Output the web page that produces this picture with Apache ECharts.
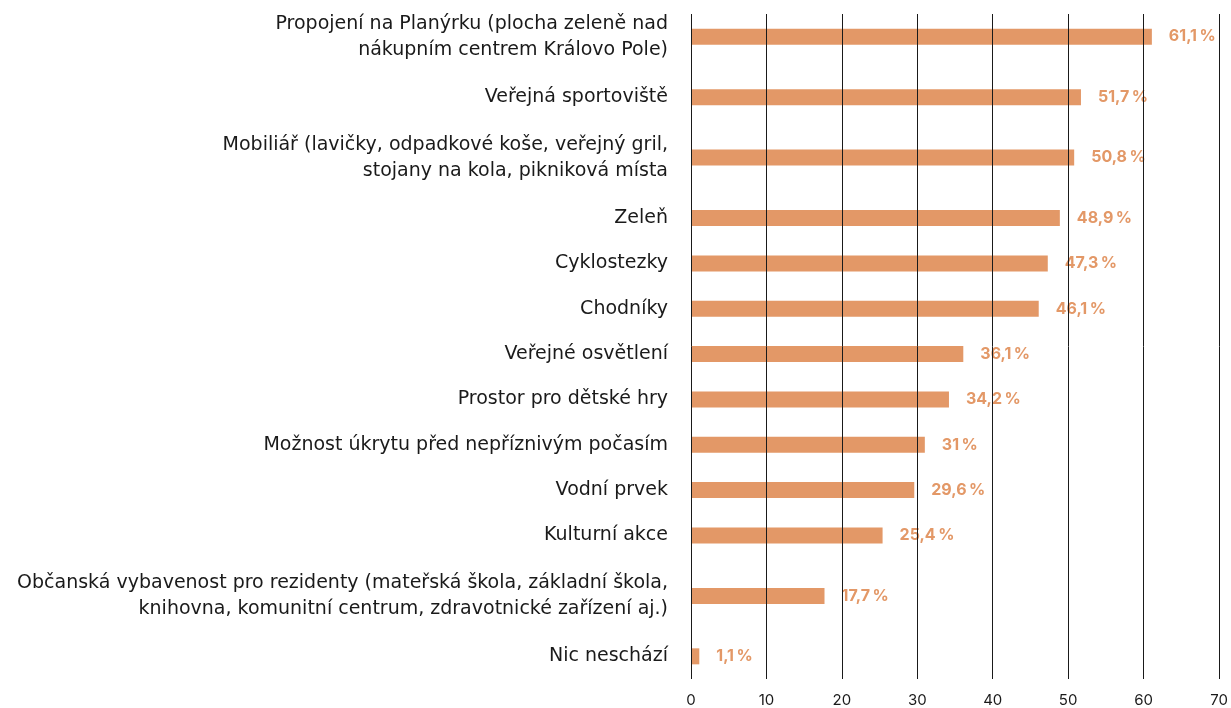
<!DOCTYPE html>
<html>
<head>
<meta charset="utf-8">
<script src="https://cdn.jsdelivr.net/npm/echarts@6/dist/echarts.min.js"></script>
<style>
  html, body { margin: 0; padding: 0; background: #fff; }
  #chart { width: 1231px; height: 708px; }
</style>
</head>
<body>
<div id="chart"></div>
<script>
// kategorie (shora dolů) a hodnoty v %
var categories = [
  "Propojení na Planýrku (plocha zeleně nad\nnákupním centrem Královo Pole)",
  "Veřejná sportoviště",
  "Mobiliář (lavičky, odpadkové koše, veřejný gril,\nstojany na kola, pikniková místa",
  "Zeleň",
  "Cyklostezky",
  "Chodníky",
  "Veřejné osvětlení",
  "Prostor pro dětské hry",
  "Možnost úkrytu před nepříznivým počasím",
  "Vodní prvek",
  "Kulturní akce",
  "Občanská vybavenost pro rezidenty (mateřská škola, základní škola,\nknihovna, komunitní centrum, zdravotnické zařízení aj.)",
  "Nic neschází"
];
var values = [61.1, 51.7, 50.8, 48.9, 47.3, 46.1, 36.1, 34.2, 31, 29.6, 25.4, 17.7, 1.1];
var xTicks = [0, 10, 20, 30, 40, 50, 60, 70];

// rozestupy: víceřádkové popisky dostanou víc místa
function lines(s) { return s.split("\n").length; }
var slots = [];      // klíče slotů na kategorické ose
var slotLabel = {};  // klíč -> text popisku
var slotValue = [];  // hodnoty pro sloty ('-' = prázdné)
var pos = 1;
var slotPos = [];
for (var i = 0; i < categories.length; i++) {
  if (i > 0) {
    pos += (lines(categories[i]) > 1 || lines(categories[i - 1]) > 1) ? 4 : 3;
  }
  slotPos.push(pos);
}
var total = slotPos[slotPos.length - 1] + 2;
for (var k = 0; k < total; k++) {
  slots.push("s" + k);
  slotValue.push("-");
}
for (var j = 0; j < categories.length; j++) {
  slotLabel["s" + slotPos[j]] = categories[j];
  slotValue[slotPos[j]] = values[j];
}

var myChart = echarts.init(document.getElementById("chart"));

var option = {
  animation: false,
  grid: {
    left: 691,
    right: 12,
    top: 14,
    bottom: 29
  },
  xAxis: {
    type: "value",
    min: xTicks[0],
    max: xTicks[xTicks.length - 1],
    interval: 10,
    z: 10,
    axisLine: { show: false },
    axisTick: { show: false },
    axisLabel: {
      margin: 14,
      color: "#1a1a1a",
      fontSize: 15,
      fontFamily: "Inter"
    },
    splitLine: {
      show: true,
      lineStyle: { color: "#1a1a1a", width: 1 }
    }
  },
  yAxis: {
    type: "category",
    inverse: true,
    data: slots,
    axisLine: { show: false },
    axisTick: { show: false },
    splitLine: { show: false },
    axisLabel: {
      interval: 0,
      margin: 23,
      color: "#1a1a1a",
      fontSize: 19,
      lineHeight: 26,
      fontFamily: "DejaVu Sans",
      align: "right",
      formatter: function (v) { return slotLabel[v] || ""; }
    }
  },
  series: [
    {
      type: "bar",
      data: slotValue,
      barWidth: 16,
      itemStyle: { color: "#e39867" },
      label: {
        show: true,
        position: "right",
        distance: 17,
        color: "#e39867",
        fontSize: 16,
        fontWeight: "bold",
        fontFamily: "Inter",
        formatter: function (p) {
          return String(p.value).replace(".", ",") + "\u2009%";
        }
      }
    }
  ]
};

myChart.setOption(option);
</script>
</body>
</html>
